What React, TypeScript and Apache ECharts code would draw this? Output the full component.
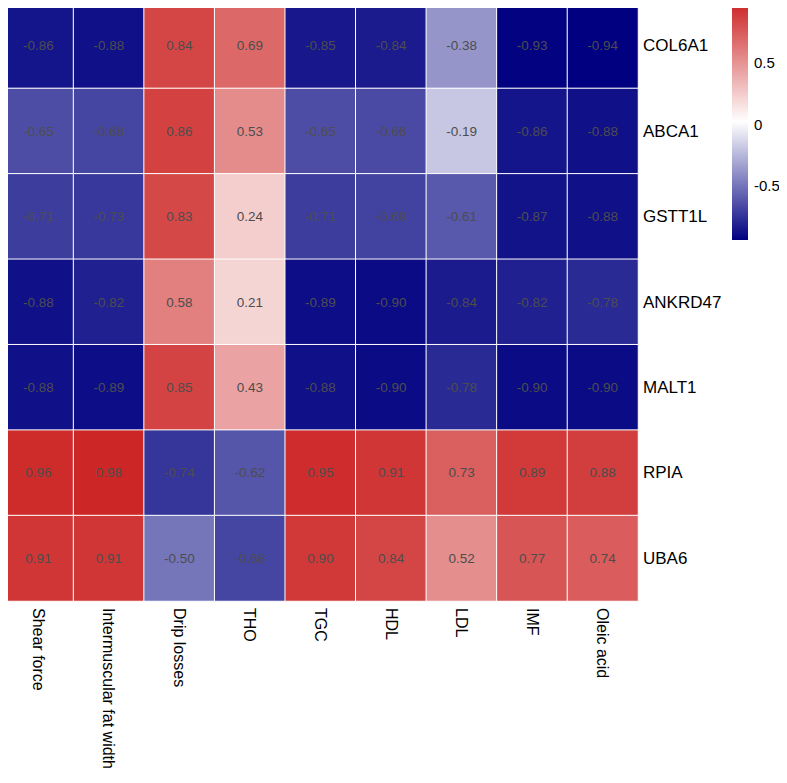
import React, { useEffect, useRef } from "react";
import * as echarts from "echarts";

const traits = ["Shear force", "Intermuscular fat width", "Drip losses", "THO", "TGC", "HDL", "LDL", "IMF", "Oleic acid"];
const genes = ["COL6A1", "ABCA1", "GSTT1L", "ANKRD47", "MALT1", "RPIA", "UBA6"];

const COL6A1 = [-0.86, -0.88, 0.84, 0.69, -0.85, -0.84, -0.38, -0.93, -0.94];
const ABCA1 = [-0.65, -0.68, 0.86, 0.53, -0.65, -0.66, -0.19, -0.86, -0.88];
const GSTT1L = [-0.71, -0.73, 0.83, 0.24, -0.71, -0.69, -0.61, -0.87, -0.88];
const ANKRD47 = [-0.88, -0.82, 0.58, 0.21, -0.89, -0.90, -0.84, -0.82, -0.78];
const MALT1 = [-0.88, -0.89, 0.85, 0.43, -0.88, -0.90, -0.78, -0.90, -0.90];
const RPIA = [0.96, 0.98, -0.74, -0.62, 0.95, 0.91, 0.73, 0.89, 0.88];
const UBA6 = [0.91, 0.91, -0.50, -0.68, 0.90, 0.84, 0.52, 0.77, 0.74];

const rows = [COL6A1, ABCA1, GSTT1L, ANKRD47, MALT1, RPIA, UBA6];
const legendTicks = [0.5, 0, -0.5];

const FONT = "Liberation Sans, Arial, sans-serif";

export default function App() {
  const ref = useRef<HTMLDivElement>(null);
  useEffect(() => {
    if (!ref.current) return;
    const chart = echarts.init(ref.current, null, { renderer: "svg" });
    const data: [number, number, number][] = [];
    rows.forEach((r, ri) => r.forEach((v, ci) => data.push([ci, ri, v])));
    const all = rows.flat();
    const vmin = Math.min(...all);
    const vmax = Math.max(...all);
    const barTop = 3.5;
    const barH = 236.5;
    const barX = 732;
    const barW = 16;
    const yOf = (v: number) => barTop + ((vmax - v) / (vmax - vmin)) * barH;
    const graphics: any[] = [
      {
        type: "rect",
        shape: { x: barX, y: barTop, width: barW, height: barH },
        style: {
          fill: new echarts.graphic.LinearGradient(0, 0, 0, 1, [
            { offset: 0, color: "#CD2626" },
            { offset: 0.5, color: "#FFFFFF" },
            { offset: 1, color: "#000080" },
          ]),
        },
      },
      ...legendTicks.map((t) => ({
        type: "text",
        x: barX + barW + 6,
        y: yOf(t),
        style: { text: String(t), font: `15px ${FONT}`, fill: "#000", verticalAlign: "middle", align: "left" },
      })),
    ];
    chart.setOption({
      animation: false,
      grid: { left: 3, right: 149, top: 3, bottom: 182 },
      xAxis: {
        type: "category",
        data: traits,
        position: "bottom",
        axisLine: { show: false },
        axisTick: { show: false },
        splitLine: { show: false },
        axisLabel: { rotate: -90, fontSize: 16, color: "#000", fontFamily: FONT, margin: 7, interval: 0 },
      },
      yAxis: {
        type: "category",
        data: genes,
        inverse: true,
        position: "right",
        axisLine: { show: false },
        axisTick: { show: false },
        splitLine: { show: false },
        axisLabel: { fontSize: 17, color: "#000", fontFamily: FONT, margin: 5 },
      },
      visualMap: {
        show: false,
        type: "continuous",
        min: vmin,
        max: vmax,
        inRange: { color: ["#000080", "#FFFFFF", "#CD2626"] },
        dimension: 2,
      },
      graphic: graphics,
      series: [
        {
          type: "heatmap",
          data,
          label: {
            show: true,
            formatter: (p: any) => p.value[2].toFixed(2),
            color: "#4D4D4D",
            fontSize: 13.5,
            fontFamily: FONT,
          },
          itemStyle: { borderColor: "#FFFFFF", borderWidth: 1 },
          emphasis: { disabled: true },
        },
      ],
    });
    return () => chart.dispose();
  }, []);
  return <div ref={ref} style={{ width: 787, height: 783, margin: -8 }} />;
}
